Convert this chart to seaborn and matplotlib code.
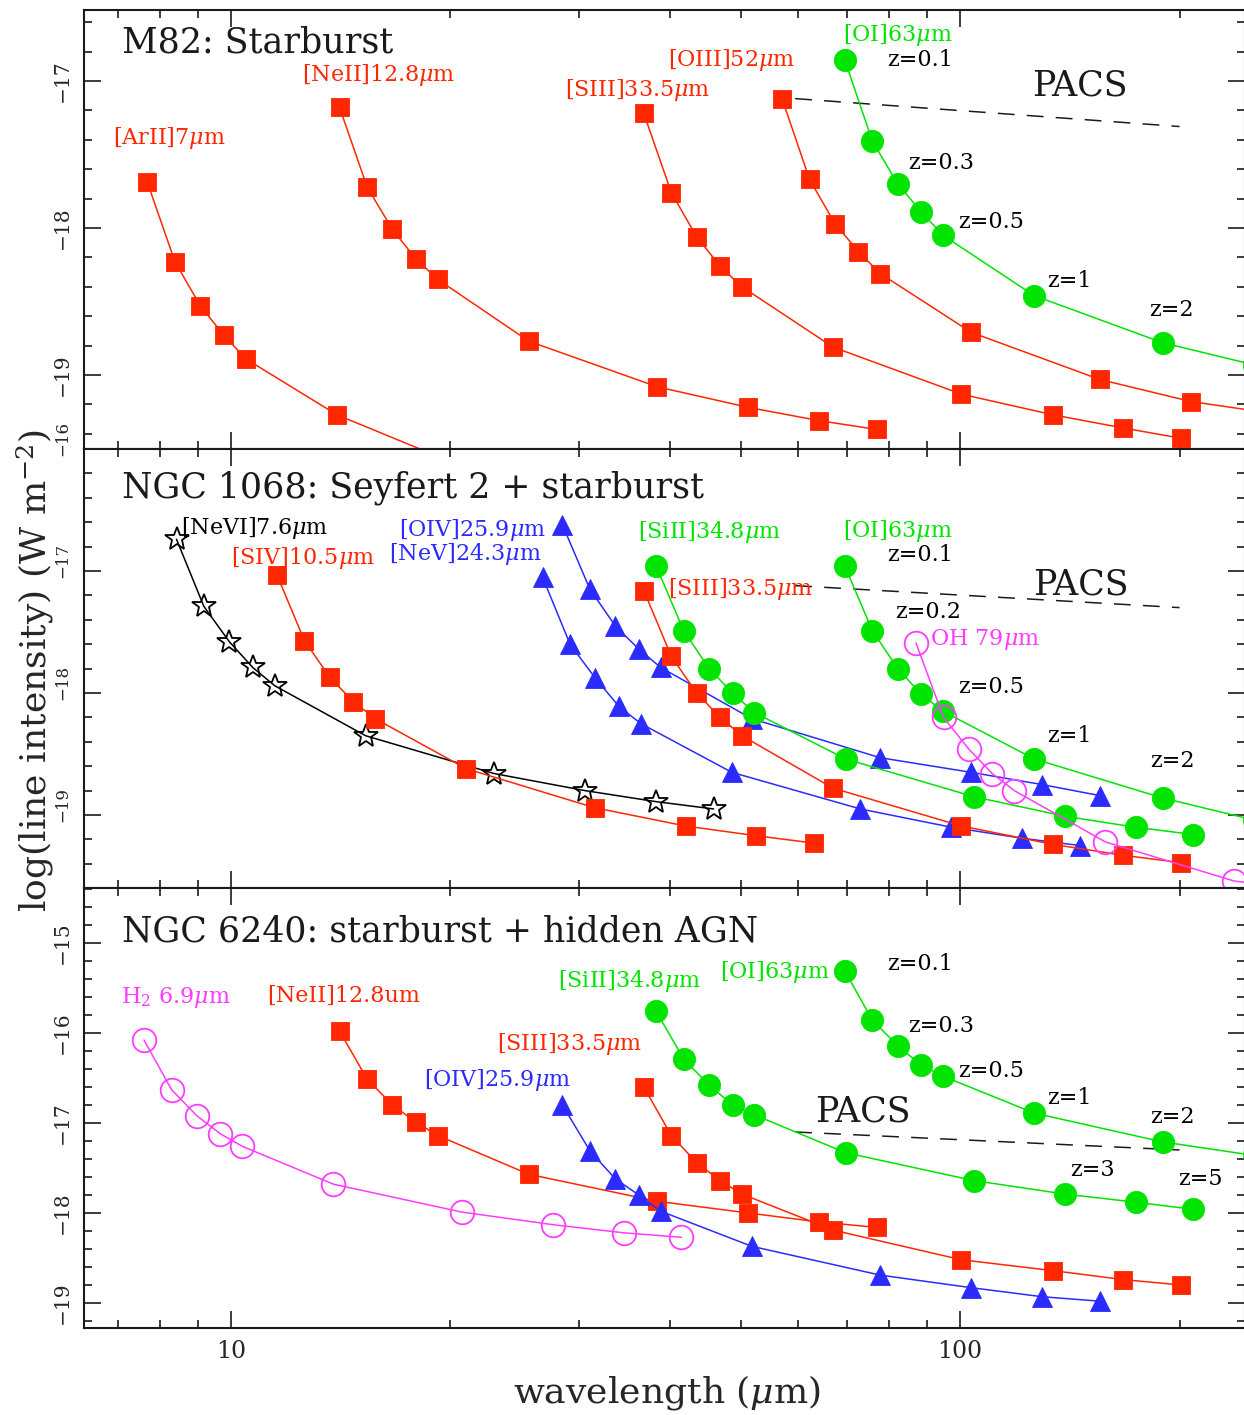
import numpy as np
import pandas as pd
import matplotlib
matplotlib.use("Agg")
import matplotlib.pyplot as plt
import seaborn as sns
from matplotlib.ticker import MultipleLocator, FixedLocator, NullFormatter, FuncFormatter, LogLocator
from matplotlib.transforms import ScaledTranslation

# ---------------- data (observed wavelength in micron, log line intensity) ----------------
# M82 panel
wl_ArII = [7.68, 8.38, 9.08, 9.78, 10.48, 13.97, 20.96]
m82_ArII = [-17.69, -18.23, -18.53, -18.73, -18.89, -19.27, -19.63]
wl_NeII = [14.09, 15.37, 16.65, 17.93, 19.22, 25.62, 38.43, 51.24, 64.05, 76.86]
m82_NeII = [-17.18, -17.72, -18.01, -18.21, -18.35, -18.77, -19.08, -19.22, -19.31, -19.37]
wl_SIII = [36.83, 40.18, 43.52, 46.87, 50.22, 66.96, 100.44, 133.92, 167.40, 200.88]
m82_SIII = [-17.22, -17.76, -18.06, -18.26, -18.40, -18.81, -19.13, -19.27, -19.36, -19.43]
wl_OIII = [56.99, 62.17, 67.35, 72.53, 77.72, 103.62, 155.43, 207.24, 259.05]
m82_OIII = [-17.12, -17.67, -17.97, -18.16, -18.31, -18.71, -19.03, -19.18, -19.25]
wl_OI = [69.50, 75.82, 82.13, 88.45, 94.77, 126.36, 189.54, 252.72]
m82_OI = [-16.86, -17.41, -17.70, -17.89, -18.05, -18.46, -18.78, -18.93]

# NGC 1068 panel
wl_NeVI = [8.42, 9.18, 9.95, 10.71, 11.48, 15.30, 22.96, 30.61, 38.26, 45.91]
n1068_NeVI = [-16.74, -17.29, -17.58, -17.79, -17.94, -18.35, -18.66, -18.80, -18.89, -18.95]
wl_SIV = [11.56, 12.61, 13.66, 14.71, 15.77, 21.02, 31.53, 42.04, 52.55, 63.06]
n1068_SIV = [-17.03, -17.57, -17.87, -18.07, -18.21, -18.62, -18.94, -19.09, -19.17, -19.23]
wl_NeV = [26.75, 29.18, 31.62, 34.05, 36.48, 48.64, 72.96, 97.28, 121.60, 145.92]
n1068_NeV = [-17.05, -17.60, -17.88, -18.11, -18.25, -18.65, -18.95, -19.10, -19.19, -19.25]
wl_OIV = [28.48, 31.07, 33.66, 36.25, 38.84, 51.78, 77.67, 103.56, 129.45, 155.34]
n1068_OIV = [-16.62, -17.15, -17.45, -17.64, -17.79, -18.21, -18.53, -18.65, -18.75, -18.84]
wl_SiII = [38.30, 41.78, 45.27, 48.75, 52.23, 69.64, 104.46, 139.28, 174.10, 208.92]
n1068_SiII = [-16.96, -17.49, -17.80, -18.00, -18.16, -18.54, -18.85, -19.01, -19.10, -19.16]
n1068_SIII = [-17.16, -17.70, -18.00, -18.20, -18.35, -18.78, -19.09, -19.24, -19.33, -19.39]
n1068_OI = [-16.96, -17.49, -17.80, -18.01, -18.15, -18.54, -18.86, -19.04]
wl_OH = [87.0, 94.9, 102.8, 110.7, 118.7, 158.2, 237.3, 316.4]
n1068_OH = [-17.59, -18.20, -18.46, -18.66, -18.80, -19.22, -19.54, -19.64]

# NGC 6240 panel
wl_H2 = [7.60, 8.29, 8.98, 9.67, 10.37, 13.82, 20.73, 27.64, 34.55, 41.46]
n6240_H2 = [-16.08, -16.63, -16.92, -17.12, -17.26, -17.68, -17.99, -18.13, -18.22, -18.27]
n6240_NeII = [-15.98, -16.51, -16.80, -16.99, -17.14, -17.57, -17.87, -18.00, -18.10, -18.16]
n6240_SIII = [-16.60, -17.14, -17.44, -17.64, -17.79, -18.19, -18.52, -18.64, -18.74, -18.80]
n6240_OIV = [-16.80, -17.31, -17.62, -17.80, -17.98, -18.37, -18.69, -18.83, -18.93, -18.98]
n6240_SiII = [-15.76, -16.29, -16.58, -16.80, -16.91, -17.33, -17.64, -17.79, -17.88, -17.96]
n6240_OI = [-15.31, -15.86, -16.14, -16.36, -16.48, -16.89, -17.21, -17.36]

# PACS sensitivity
wl_PACS = [59.4, 200.0]
m82_PACS = [-17.12, -17.31]
n1068_PACS = [-17.12, -17.30]
n6240_PACS = [-17.10, -17.30]

titles = ["M82: Starburst", "NGC 1068: Seyfert 2 + starburst", "NGC 6240: starburst + hidden AGN"]
xtick_labels = ["10", "100"]

# ---------------- styling ----------------
RED = "#ff2600"
GREEN = "#00e400"
BLUE = "#2b2bff"
MAG = "#ff3cff"
BLK = "#000000"

sns.set_theme(style="ticks")
plt.rcParams["font.family"] = ["DejaVu Serif"]
plt.rcParams["mathtext.fontset"] = "dejavuserif"
plt.rcParams["axes.linewidth"] = 1.5

STY = {
    "sq": dict(marker="s", markersize=13, fill=True),
    "ci": dict(marker="o", markersize=16, fill=True),
    "tr": dict(marker="^", markersize=14, fill=True),
    "st": dict(marker="*", markersize=18, fill=False),
    "oc": dict(marker="o", markersize=17, fill=False),
}

panels = [
    dict(series=[(wl_ArII, m82_ArII, RED, "sq"), (wl_NeII, m82_NeII, RED, "sq"),
                 (wl_SIII, m82_SIII, RED, "sq"), (wl_OIII, m82_OIII, RED, "sq"),
                 (wl_OI, m82_OI, GREEN, "ci")],
         pacs=m82_PACS, ylim=(-19.503, -16.514), yticks=[-19, -18, -17]),
    dict(series=[(wl_NeVI, n1068_NeVI, BLK, "st"), (wl_SIV, n1068_SIV, RED, "sq"),
                 (wl_NeV, n1068_NeV, BLUE, "tr"), (wl_OIV, n1068_OIV, BLUE, "tr"),
                 (wl_SIII, n1068_SIII, RED, "sq"), (wl_SiII, n1068_SiII, GREEN, "ci"),
                 (wl_OI, n1068_OI, GREEN, "ci"), (wl_OH, n1068_OH, MAG, "oc")],
         pacs=n1068_PACS, ylim=(-19.598, -16.0), yticks=[-19, -18, -17, -16]),
    dict(series=[(wl_H2, n6240_H2, MAG, "oc"), (wl_NeII, n6240_NeII, RED, "sq"),
                 (wl_SIII, n6240_SIII, RED, "sq"), (wl_OIV, n6240_OIV, BLUE, "tr"),
                 (wl_SiII, n6240_SiII, GREEN, "ci"), (wl_OI, n6240_OI, GREEN, "ci")],
         pacs=n6240_PACS, ylim=(-19.278, -14.389), yticks=[-19, -18, -17, -16, -15]),
]

MU = r"$\mu$m"
annotations = [
    [("[ArII]7" + MU, 6.89, -17.39, RED), ("[NeII]12.8" + MU, 12.51, -16.96, RED),
     ("[SIII]33.5" + MU, 28.72, -17.06, RED), ("[OIII]52" + MU, 39.77, -16.86, RED),
     ("[OI]63" + MU, 69.1, -16.69, GREEN), ("z=0.1", 79.4, -16.86, BLK),
     ("z=0.3", 84.9, -17.56, BLK), ("z=0.5", 99.4, -17.96, BLK),
     ("z=1", 131.6, -18.36, BLK), ("z=2", 181.7, -18.56, BLK)],
    [("[NeVI]7.6" + MU, 8.54, -16.65, BLK), ("[SIV]10.5" + MU, 10.0, -16.89, RED),
     ("[OIV]25.9" + MU, 17.0, -16.66, BLUE), ("[NeV]24.3" + MU, 16.47, -16.86, BLUE),
     ("[SiII]34.8" + MU, 36.17, -16.68, GREEN), ("[SIII]33.5" + MU, 39.77, -17.15, RED),
     ("[OI]63" + MU, 69.1, -16.67, GREEN), ("z=0.1", 79.4, -16.87, BLK),
     ("z=0.2", 81.4, -17.34, BLK), ("OH 79" + MU, 90.9, -17.56, MAG),
     ("z=0.5", 99.4, -17.95, BLK), ("z=1", 131.6, -18.35, BLK), ("z=2", 182.3, -18.56, BLK)],
    [("H$_2$ 6.9" + MU, 7.07, -15.61, MAG), ("[NeII]12.8um", 11.2, -15.59, RED),
     ("[SIII]33.5" + MU, 23.17, -16.12, RED), ("[OIV]25.9" + MU, 18.4, -16.52, BLUE),
     ("[SiII]34.8" + MU, 28.1, -15.42, GREEN), ("[OI]63" + MU, 46.9, -15.32, GREEN),
     ("z=0.1", 79.4, -15.23, BLK), ("z=0.3", 84.9, -15.92, BLK), ("z=0.5", 99.4, -16.42, BLK),
     ("z=1", 131.6, -16.72, BLK), ("z=2", 182.3, -16.93, BLK), ("z=3", 141.6, -17.52, BLK),
     ("z=5", 199.1, -17.62, BLK)],
]
pacs_pos = [(125.6, -17.03), (125.9, -17.11), (63.2, -16.87)]
title_y = [0.926, 0.911, 0.90]
ylab_size = [14.5, 12, 14.5]

# ---------------- figure ----------------
W_PX, H_PX = 1244, 1415
fig = plt.figure(figsize=(W_PX / 100, H_PX / 100), dpi=100)
left_px, right_px = 84, 1245
tops = [9.5, 449, 888]
bots = [449, 888, 1328]
axes = []
for i, p in enumerate(panels):
    ax = fig.add_axes([left_px / W_PX, 1 - bots[i] / H_PX,
                       (right_px - left_px) / W_PX, (bots[i] - tops[i]) / H_PX])
    ax.set_xscale("log")
    ax.set_xlim(6.287, 245.9)
    ax.set_ylim(*p["ylim"])

    # PACS line
    sns.lineplot(x=wl_PACS, y=p["pacs"], ax=ax, color="k", lw=1.1,
                 dashes=False, legend=False, sort=False, estimator=None, zorder=1)
    ax.lines[-1].set_dashes((11, 8))

    for (xs, ys, col, kind) in p["series"]:
        st = STY[kind]
        df = pd.DataFrame({"wl": xs, "flux": ys})
        sns.lineplot(data=df, x="wl", y="flux", ax=ax, color=col, lw=1.1,
                     marker=st["marker"], markersize=st["markersize"],
                     markerfacecolor=(col if st["fill"] else "none"),
                     markeredgecolor=col, markeredgewidth=(0.6 if st["fill"] else 1.3),
                     sort=False, estimator=None, legend=False, zorder=3)

    for (txt, x, y, col) in annotations[i]:
        ax.text(x, y, txt, color=col, fontsize=16, ha="left", va="center", zorder=5)
    ax.text(pacs_pos[i][0], pacs_pos[i][1], "PACS", color="k", fontsize=25,
            ha="left", va="center", zorder=5)
    ax.text((122 - left_px) / (right_px - left_px), title_y[i], titles[i],
            transform=ax.transAxes, fontsize=25, ha="left", va="center", color="k")

    # ticks
    ax.xaxis.set_major_locator(FixedLocator([10, 100]))
    ax.xaxis.set_minor_locator(LogLocator(base=10, subs=np.arange(2, 10), numticks=20))
    ax.xaxis.set_minor_formatter(NullFormatter())
    if i == 2:
        ax.xaxis.set_major_formatter(FuncFormatter(lambda v, pos: xtick_labels[pos] if pos is not None and pos < len(xtick_labels) else ""))
    else:
        ax.xaxis.set_major_formatter(NullFormatter())
    ax.set_yticks(p["yticks"])
    ax.yaxis.set_minor_locator(MultipleLocator(0.2))
    ax.yaxis.set_major_formatter(FuncFormatter(lambda v, pos: "\u2212%d" % abs(round(v))))
    ax.tick_params(which="both", direction="in", top=True, right=True, width=1.2, color="k")
    ax.tick_params(which="major", length=12)
    ax.tick_params(which="minor", length=6)
    ax.tick_params(axis="x", labelsize=17, pad=9)
    ax.tick_params(axis="y", labelsize=ylab_size[i], pad=9)
    ax.set_xlabel("")
    ax.set_ylabel("")
    for s in ax.spines.values():
        s.set_linewidth(1.5)
        s.set_color("k")
    axes.append(ax)

fig.text(35 / W_PX, 1 - 670 / H_PX, "log(line intensity) (W m$^{-2}$)", rotation=90,
         fontsize=26, ha="center", va="center")
fig.text(667 / W_PX, 1 - 1393 / H_PX, "wavelength (" + r"$\mu$" + "m)",
         fontsize=26, ha="center", va="center")

fig.canvas.draw()
for i, ax in enumerate(axes):
    for lbl in ax.get_yticklabels():
        lbl.set_rotation(90)
        lbl.set_ha("right")
        lbl.set_va("center")
        if i == 1:
            lbl.set_transform(lbl.get_transform() + ScaledTranslation(0, 0.11, fig.dpi_scale_trans))

fig.savefig("out.png", dpi=100)
